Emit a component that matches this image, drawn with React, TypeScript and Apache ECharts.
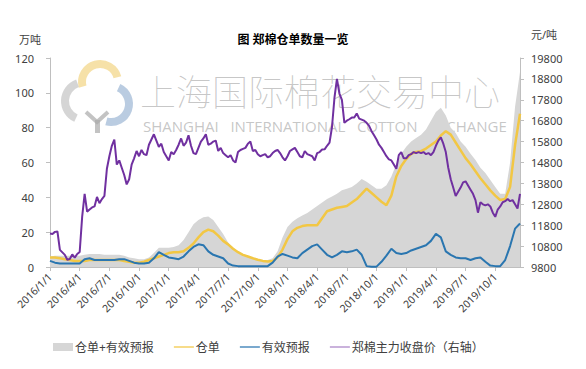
import React, { useEffect, useRef } from "react";
import * as echarts from "echarts";

const FONT = "'Noto Sans', 'Noto Sans CJK SC', sans-serif";

// category axis: weekly points (1st, 8th, 16th, 24th of each month)
const years = [2016, 2017, 2018, 2019];
const months = [1, 2, 3, 4, 5, 6, 7, 8, 9, 10, 11, 12];
const weekDays = [1, 8, 16, 24];

// 郑棉主力收盘价 (元/吨), weekly
const priceClose = [
  11400, 11380, 11480, 11500, 10620, 10500, 10380, 10150, 10180, 10400, 10250, 10420,
  10520, 12200, 13300, 12450, 12550, 12650, 12700, 13150, 12850, 13050, 13200, 14500,
  15100, 15600, 15900, 14700, 14900, 14550, 14200, 13750, 14000, 14700, 15000, 15350,
  15100, 15400, 15200, 15150, 15650, 15900, 16150, 15850, 15550, 15700, 15300, 15100,
  14900, 15300, 15200, 15400, 15650, 15950, 15600, 15750, 16100, 15600, 15250, 15200,
  15500, 15800, 15950, 16150, 15650, 15700, 15800, 15850, 15350, 15500, 15250, 15150,
  15050, 15150, 14900, 14800, 15300, 15400, 15450, 15500, 15700, 15800, 15350, 15400,
  15200, 15100, 15150, 15200, 15050, 15100, 15250, 15350, 15400, 15250, 15050, 14900,
  15100, 15350, 15430, 15500, 15300, 15100, 15050, 15350, 15200, 15150, 15100, 14900,
  15250, 15300, 15420, 15430, 15600, 15750, 16500, 17900, 18800, 18100, 17800, 16700,
  16800, 16870, 16950, 16950, 17150, 16900, 16850, 16800, 16700, 16550, 16300, 16100,
  15900, 15650, 15500, 15300, 15100, 14950, 14900, 14700, 14500, 15150, 15300, 15000,
  15000, 15150, 15200, 15300, 15250, 15300, 15250, 15300, 15200, 15250, 15150, 15300,
  15600, 15850, 16000, 15700, 15300, 14550, 14000, 13600, 13200, 13400, 13600, 13850,
  13900, 13700, 13500, 13300, 13000, 12400, 12900, 12800, 12750, 12800, 12700, 12400,
  12200, 12550, 12700, 12900, 12950, 13050, 12950, 13000, 12800, 12600, 13300,
];

// half-monthly values (1st and 16th), 万吨
const warehouseReceipts = [
  5.5, 5.5, 5, 4.5, 4, 3.5, 3.5, 3.5, 4, 4, 4, 4,
  4, 4, 4, 3.5, 3, 2.5, 2.5, 3, 4, 5, 6, 7,
  8, 8.5, 8.5, 9, 11, 13.5, 17, 20, 21.5, 20.5, 18, 15,
  13, 10.5, 8.5, 7, 6, 5, 4.2, 3.5, 3.2, 3.5, 5.5, 10,
  16, 20.5, 22.5, 23.5, 24, 24, 24, 28, 32, 33, 34, 34.5,
  35, 37, 39, 42, 45, 42.5, 40, 37.5, 35.5, 41, 52, 58,
  62, 65, 66, 66.5, 68, 70, 72, 75.5, 78, 76, 71.5, 67,
  62.5, 59, 55, 51, 47.5, 44, 41, 38.5, 39, 46, 70, 88,
];

const validForecasts = [
  3.5, 2.5, 2, 2, 2, 2, 2, 4.5, 5, 4, 4, 4,
  4, 4, 4.5, 4.5, 3.5, 2.5, 2, 2, 2.5, 5, 8.5, 7,
  5.5, 5, 4.5, 6, 9, 11.5, 13, 12.5, 9, 7, 6, 5,
  2, 0.8, 0.5, 0.4, 0.4, 0.4, 0.4, 0.4, 0.5, 2.5, 6, 7.5,
  6.5, 5.5, 5, 8, 10, 12, 13, 10, 7, 5.5, 7, 9,
  8.5, 9, 10, 7, 0.5, 0.2, 0.2, 3, 6.5, 10.5, 8, 7.5,
  8, 9.5, 10.5, 11.5, 12.5, 15, 19, 17, 9, 7, 5.5, 5,
  5, 4, 5, 5.5, 3, 0.8, 0.5, 0.5, 4, 12, 22, 25,
];

const receiptsPlusForecasts = [
  6, 6.5, 6.5, 6.5, 6.5, 6.5, 6.5, 7, 7.5, 7.5, 7.5, 7,
  7, 7, 7, 6.5, 5.5, 5, 4.5, 4.5, 5.5, 8, 11, 11,
  11, 11.5, 12.5, 15.5, 20, 24.5, 27, 28.5, 29, 27, 23, 19,
  14, 11, 9, 7.5, 6.5, 5.5, 4.5, 4, 4, 5, 9, 17,
  23, 26, 28, 29.5, 31, 33, 35, 37, 39, 40.5, 42, 44,
  45, 46, 48, 50.5, 49, 47, 45, 45, 47, 52, 59, 65,
  69, 72, 74, 76, 79, 84, 89, 91.5, 87, 80, 77, 72,
  69, 65, 61.5, 57, 54, 50, 46, 42, 42, 60, 92, 112,
];

const seriesNames = ["仓单+有效预报", "仓单", "有效预报", "郑棉主力收盘价（右轴）"];

const categories: string[] = [];
years.forEach((y) =>
  months.forEach((m) => weekDays.forEach((d) => categories.push(`${y}/${m}/${d}`)))
);
const axisCats = categories.slice(0, priceClose.length);

const toWeekly = (arr: number[]) => {
  const out: (number | null)[] = [];
  arr.forEach((v) => out.push(v, null));
  return out.slice(0, axisCats.length);
};

const isQuarterStart = (i: number) => i % 12 === 0;
const deg = (a: number) => (a * Math.PI) / 180;

export default function App() {
  const ref = useRef<HTMLDivElement>(null);
  useEffect(() => {
    if (!ref.current) return;
    const chart = echarts.init(ref.current, undefined, { renderer: "svg" });
    const axisColor = "#bfbfbf";
    const labelColor = "#404040";
    const wm = "rgba(150,150,150,0.55)";
    chart.setOption({
      animation: false,
      backgroundColor: "#ffffff",
      textStyle: { fontFamily: FONT },
      title: {
        text: "图 郑棉仓单数量一览",
        left: "center",
        top: 28,
        textStyle: { fontSize: 12, fontWeight: "bold", color: "#000", fontFamily: FONT },
      },
      graphic: {
        elements: [
          {
            type: "arc", z: 0, silent: true,
            shape: { cx: 100, cy: 82, r: 18, startAngle: deg(165), endAngle: deg(345) },
            style: { stroke: "rgba(240,205,110,0.6)", lineWidth: 8, fill: null },
          },
          {
            type: "arc", z: 0, silent: true,
            shape: { cx: 84, cy: 101, r: 19, startAngle: deg(115), endAngle: deg(250) },
            style: { stroke: "rgba(185,185,185,0.6)", lineWidth: 8, fill: null },
          },
          {
            type: "arc", z: 0, silent: true,
            shape: { cx: 111, cy: 104, r: 18, startAngle: deg(-65), endAngle: deg(105) },
            style: { stroke: "rgba(140,170,205,0.6)", lineWidth: 8, fill: null },
          },
          {
            type: "polyline", z: 0, silent: true,
            shape: { points: [[86, 112], [97, 122], [108, 112]] },
            style: { stroke: "rgba(170,170,170,0.7)", lineWidth: 4, fill: null },
          },
          {
            type: "rect", z: 0, silent: true,
            shape: { x: 95, y: 120, width: 5, height: 13 },
            style: { fill: "rgba(170,170,170,0.7)" },
          },
          {
            type: "text", z: 0, silent: true, x: 140, y: 72,
            style: {
              text: "上海国际棉花交易中心",
              fill: wm, fontSize: 36, fontWeight: "lighter",
              fontFamily: "'Noto Sans CJK SC', sans-serif",
            },
          },
          {
            type: "text", z: 0, silent: true, x: 143, y: 118,
            style: {
              text: "SHANGHAI   INTERNATIONAL   COTTON   EXCHANGE",
              fill: wm, fontSize: 15, fontFamily: "'Open Sans', sans-serif",
            },
          },
          {
            type: "text", x: 19, y: 34, silent: true,
            style: { text: "万吨", fill: labelColor, fontSize: 11, fontFamily: FONT },
          },
          {
            type: "text", x: 531, y: 29, silent: true,
            style: { text: "元/吨", fill: labelColor, fontSize: 11, fontFamily: FONT },
          },
        ],
      },
      legend: {
        left: 48,
        top: 336,
        itemWidth: 20,
        itemHeight: 8,
        itemGap: 20,
        itemStyle: { borderWidth: 0 },
        textStyle: { fontSize: 12, color: labelColor, fontFamily: FONT, padding: [0, 0, 0, -3] },
        data: [
          { name: seriesNames[0], icon: "rect" },
          { name: seriesNames[1], icon: "path://M0,0H40V2.5H0Z" },
          { name: seriesNames[2], icon: "path://M0,0H40V2.5H0Z" },
          { name: seriesNames[3], icon: "path://M0,0H40V1.5H0Z" },
        ],
      },
      grid: { left: 50, right: 66, top: 58, bottom: 102 },
      xAxis: {
        type: "category",
        data: axisCats,
        boundaryGap: false,
        axisLine: { lineStyle: { color: axisColor } },
        axisTick: { interval: isQuarterStart, length: 4, lineStyle: { color: axisColor } },
        axisLabel: {
          interval: isQuarterStart,
          rotate: 45,
          fontSize: 10.5,
          color: labelColor,
          margin: 8,
          fontFamily: FONT,
        },
        splitLine: { show: false },
      },
      yAxis: [
        {
          type: "value",
          min: 0,
          max: 120,
          interval: 20,
          axisLine: { show: true, lineStyle: { color: axisColor } },
          axisTick: { show: true, length: 4, lineStyle: { color: axisColor } },
          axisLabel: { color: labelColor, fontSize: 11, margin: 16, fontFamily: FONT },
          splitLine: { show: false },
        },
        {
          type: "value",
          position: "right",
          min: 9800,
          max: 19800,
          interval: 1000,
          axisLine: { show: true, lineStyle: { color: axisColor } },
          axisTick: { show: true, length: 4, lineStyle: { color: axisColor } },
          axisLabel: {
            color: labelColor,
            fontSize: 11,
            margin: 11,
            fontFamily: FONT,
            formatter: (v: number) => String(v),
          },
          splitLine: { show: false },
        },
      ],
      series: [
        {
          name: seriesNames[0],
          type: "line",
          data: toWeekly(receiptsPlusForecasts),
          connectNulls: true,
          symbol: "none",
          lineStyle: { width: 0, color: "#D6D6D6" },
          itemStyle: { color: "#D6D6D6" },
          areaStyle: { color: "#D6D6D6", opacity: 1 },
          z: 1,
        },
        {
          name: seriesNames[1],
          type: "line",
          data: toWeekly(warehouseReceipts),
          connectNulls: true,
          symbol: "none",
          lineStyle: { width: 2.5, color: "#F2C744" },
          itemStyle: { color: "#F2C744" },
          z: 2,
        },
        {
          name: seriesNames[2],
          type: "line",
          data: toWeekly(validForecasts),
          connectNulls: true,
          symbol: "none",
          lineStyle: { width: 2, color: "#2A76B0" },
          itemStyle: { color: "#2A76B0" },
          z: 3,
        },
        {
          name: seriesNames[3],
          type: "line",
          yAxisIndex: 1,
          data: priceClose,
          symbol: "none",
          lineStyle: { width: 2, color: "#7030A0" },
          itemStyle: { color: "#7030A0" },
          z: 4,
        },
      ],
    });
    return () => chart.dispose();
  }, []);
  return (
    <div
      ref={ref}
      style={{ position: "fixed", left: 0, top: 0, width: 586, height: 369, background: "#fff" }}
    />
  );
}
